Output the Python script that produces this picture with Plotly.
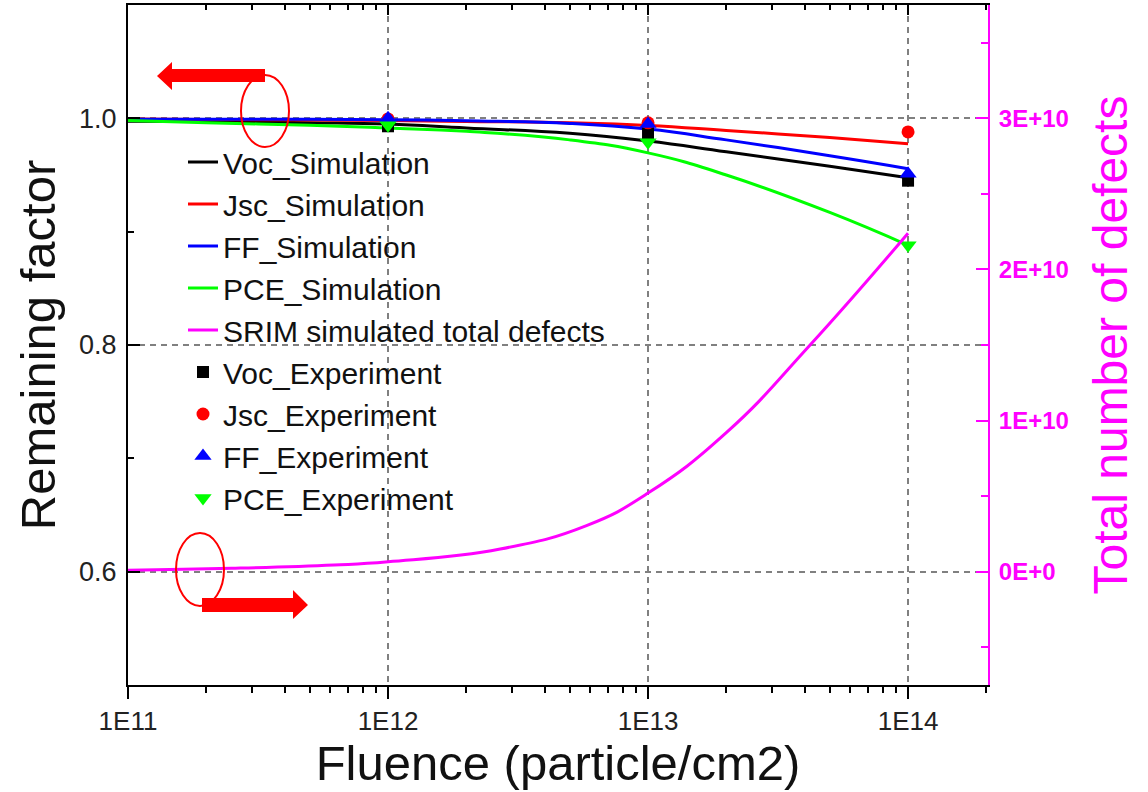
import math
import plotly.graph_objects as go

# ---------------- data ----------------
fluence_sim = [1e11, 2e11, 5e11, 1e12, 2e12, 5e12, 1e13, 2e13, 5e13, 1e14]
voc_sim = [0.9975, 0.9972, 0.9962, 0.995, 0.9915, 0.9868, 0.980, 0.9705, 0.9577, 0.9476]
jsc_sim = [0.9995, 0.999, 0.9985, 0.998, 0.9973, 0.996, 0.9937, 0.9893, 0.983, 0.9776]
ff_sim = [0.9993, 0.9993, 0.9991, 0.9988, 0.9978, 0.9955, 0.9905, 0.981, 0.967, 0.9556]
pce_sim = [0.998, 0.996, 0.994, 0.9915, 0.9885, 0.981, 0.9695, 0.950, 0.917, 0.888]

fluence_def = [1e11, 2.5e11, 6.2e11, 1e12, 2.7e12, 5.8e12, 1e13, 2e13, 4.2e13, 1e14]
defects = [1.0e8, 2.2e8, 4.4e8, 6.6e8, 1.5e9, 3.05e9, 5.2e9, 9.2e9, 1.5e10, 2.24e10]

fluence_exp = [1e12, 1e13, 1e14]
voc_exp = [0.993, 0.987, 0.945]
jsc_exp = [0.9995, 0.996, 0.988]
ff_exp = [1.0, 0.995, 0.951]
pce_exp = [0.994, 0.979, 0.888]

x_tickvals = [1e11, 1e12, 1e13, 1e14]
x_ticktext = ["1E11", "1E12", "1E13", "1E14"]
y2_tickvals = [0, 1e10, 2e10, 3e10]
y2_ticktext = ["0E+0", "1E+10", "2E+10", "3E+10"]

# ---------------- layout geometry ----------------
W, H = 1148, 792
L, R, T, B = 128, 160, 5, 107
FONT = "Liberation Sans, Arial, sans-serif"
x_range = [11, math.log10(2.03e14)]

def px(x):
    return (x - L) / (W - L - R)

def py(y):
    return (H - B - y) / (H - B - T)

minor_x = [m * 10 ** e for e in range(11, 15) for m in range(2, 10) if m * 10 ** e <= 2.03e14]

fig = go.Figure()

line_specs = [
    ("Voc_Simulation", voc_sim, "#000000"),
    ("Jsc_Simulation", jsc_sim, "#FF0000"),
    ("FF_Simulation", ff_sim, "#0000FF"),
    ("PCE_Simulation", pce_sim, "#00FF00"),
]
for name, ys, col in line_specs:
    fig.add_trace(go.Scatter(x=fluence_sim, y=ys, name=name, mode="lines",
                             line=dict(color=col, width=3, shape="spline", smoothing=1.3)))

fig.add_trace(go.Scatter(x=fluence_def, y=defects, name="SRIM simulated total defects",
                         mode="lines", yaxis="y2",
                         line=dict(color="#FF00FF", width=3, shape="spline", smoothing=1.3)))

marker_specs = [
    ("Voc_Experiment", voc_exp, "#000000", "square", 12),
    ("Jsc_Experiment", jsc_exp, "#FF0000", "circle", 13),
    ("FF_Experiment", ff_exp, "#0000FF", "triangle-up", 15),
    ("PCE_Experiment", pce_exp, "#00FF00", "triangle-down", 15),
]
for name, ys, col, sym, sz in marker_specs:
    fig.add_trace(go.Scatter(x=fluence_exp, y=ys, name=name, mode="markers",
                             marker=dict(color=col, symbol=sym, size=sz, line=dict(width=0))))

# invisible trace to anchor the mirrored top axis
fig.add_trace(go.Scatter(x=fluence_exp, y=voc_exp, xaxis="x2", mode="markers",
                         marker=dict(opacity=0), showlegend=False, hoverinfo="skip"))

grid = dict(showgrid=True, gridcolor="#808080", gridwidth=1.5, griddash="6px,5px")

fig.update_layout(
    width=W, height=H,
    margin=dict(l=L, r=R, t=T, b=B, autoexpand=False),
    template="none",
    paper_bgcolor="white", plot_bgcolor="white",
    font=dict(family=FONT, color="#000000"),
    showlegend=True,
    legend=dict(x=px(183), y=py(136), xanchor="left", yanchor="top",
                font=dict(size=30, family=FONT, color="#111111"),
                bgcolor="rgba(0,0,0,0)", borderwidth=0, tracegroupgap=0),
    xaxis=dict(type="log", range=x_range, tickmode="array",
               tickvals=x_tickvals, ticktext=x_ticktext,
               ticks="outside", ticklen=12, tickwidth=2, tickcolor="#000000",
               showline=True, linewidth=2, linecolor="#000000", mirror=False,
               zeroline=False, automargin=False,
               tickfont=dict(size=26, family=FONT, color="#222222"),
               minor=dict(tickmode="array", tickvals=minor_x, ticks="outside",
                          ticklen=6, tickwidth=1.5, tickcolor="#000000", showgrid=False),
               title=dict(text="Fluence (particle/cm2)", standoff=8,
                          font=dict(size=49, family=FONT, color="#111111")),
               **grid),
    xaxis2=dict(type="log", range=x_range, overlaying="x", side="top",
                tickmode="array", tickvals=x_tickvals, showticklabels=False,
                ticks="inside", ticklen=10, tickwidth=2, tickcolor="#000000",
                showline=True, linewidth=2, linecolor="#000000",
                showgrid=False, zeroline=False, automargin=False,
                minor=dict(tickmode="array", tickvals=minor_x, ticks="inside",
                           ticklen=5, tickwidth=1.5, tickcolor="#000000", showgrid=False)),
    yaxis=dict(range=[0.5, 1.1], tickmode="linear", tick0=0.6, dtick=0.2, tickformat=".1f",
               ticks="inside", ticklen=12, tickwidth=2, tickcolor="#000000",
               showline=True, linewidth=2, linecolor="#000000",
               zeroline=False, automargin=False, ticklabelstandoff=4,
               tickfont=dict(size=27, family=FONT, color="#222222"),
               minor=dict(tickmode="linear", tick0=0.5, dtick=0.1, ticks="inside",
                          ticklen=6, tickwidth=1.5, tickcolor="#000000", showgrid=False),
               title=dict(text="Remaining factor", standoff=8,
                          font=dict(size=49, family=FONT, color="#111111")),
               **grid),
    yaxis2=dict(range=[-0.75e10, 3.75e10], overlaying="y", side="right",
                tickmode="array", tickvals=y2_tickvals, ticktext=y2_ticktext,
                ticks="inside", ticklen=12, tickwidth=2, tickcolor="#FF00FF",
                showline=True, linewidth=2, linecolor="#FF00FF",
                showgrid=False, zeroline=False, automargin=False, ticklabelstandoff=4,
                tickfont=dict(size=24, family=FONT, color="#FF00FF", weight="bold"),
                minor=dict(tickmode="array", tickvals=[-5e9, 5e9, 1.5e10, 2.5e10, 3.5e10],
                           ticks="inside", ticklen=7, tickwidth=1.5, tickcolor="#FF00FF"),
                title=dict(text="Total number of defects", standoff=26,
                           font=dict(size=48, family=FONT, color="#FF00FF"))),
)

# ---------------- red annotation arrows and ellipses ----------------
def poly(points):
    return "M " + " L ".join(f"{px(x):.5f},{py(y):.5f}" for x, y in points) + " Z"

left_arrow = [(265, 69), (172, 69), (172, 62), (157, 76), (172, 90), (172, 82), (265, 82)]
right_arrow = [(202, 598), (293, 598), (293, 590), (308, 605), (293, 619), (293, 612), (202, 612)]
for pts in (left_arrow, right_arrow):
    fig.add_shape(type="path", path=poly(pts), xref="paper", yref="paper",
                  fillcolor="#FF0000", line=dict(color="#FF0000", width=0), layer="above")

for (x0, y0, x1, y1) in [(241, 75, 289, 147), (176, 533, 224, 606)]:
    fig.add_shape(type="circle", xref="paper", yref="paper",
                  x0=px(x0), x1=px(x1), y0=py(y1), y1=py(y0),
                  line=dict(color="#FF0000", width=2), fillcolor="rgba(0,0,0,0)", layer="above")

fig.write_html("out.html")
